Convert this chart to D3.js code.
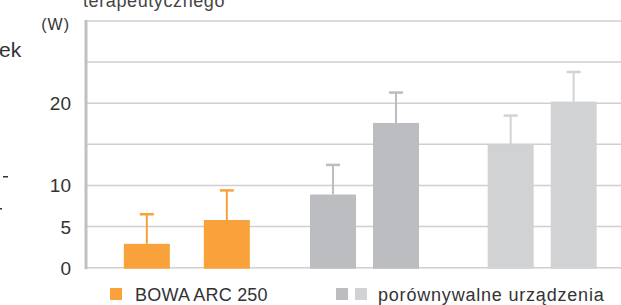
<!DOCTYPE html>
<html>
<head>
<meta charset="utf-8">
<script src="https://cdn.jsdelivr.net/npm/d3@7"></script>
<style>
  body { margin: 0; background: #fff; }
  text { font-family: "Liberation Sans", Arial, sans-serif; fill: #333; }
</style>
</head>
<body>
<div id="chart"></div>
<script>
var svgWidth = 621;
var svgHeight = 305;

// data
var groups = ["BOWA ARC 250", "urzadzenie A", "urzadzenie B"];
var series = ["a", "b"];
var values = [[2.9, 5.8], [8.9, 17.6], [15.0, 20.2]];
var errors = [[3.6, 3.6], [3.6, 3.7], [3.5, 3.6]];
var barColors = ["#f9a13a", "#bcbdc0", "#d1d2d4"];
var yTicks = [0, 5, 10, 15, 20, 25, 30];
var yLabels = [0, 5, 10, 20];

// layout
var barWidth = 46;
var innerGap = [34, 17, 17];

var svg = d3.select("#chart")
    .append("svg")
    .attr("width", svgWidth)
    .attr("height", svgHeight);

var y = d3.scaleLinear().domain([0, 30]).range([267.7, 21]);
var x0 = d3.scaleBand().domain(groups).range([98, 631]);

// cut-off text from the surrounding page
svg.append("text").text("terapeutycznego")
    .attr("x", 83).attr("y", 7).style("font-size", "18px")
    .style("letter-spacing", "0.6px").style("fill", "#444");
svg.append("text").text("ek")
    .attr("x", -1).attr("y", 57).style("font-size", "21px");
svg.append("rect").attr("x", 3).attr("y", 176).attr("width", 5).attr("height", 1.5).attr("fill", "#333");
svg.append("rect").attr("x", 0).attr("y", 208).attr("width", 2).attr("height", 1.5).attr("fill", "#333");

svg.append("text").text("(W)")
    .attr("x", 70).attr("y", 30).attr("text-anchor", "end")
    .style("font-size", "16px").style("letter-spacing", "1px");

// gridlines
svg.selectAll(".grid")
    .data(yTicks).enter().append("line")
    .attr("x1", 86).attr("x2", svgWidth)
    .attr("y1", d => y(d)).attr("y2", d => y(d))
    .attr("stroke", "#cfcfd1").attr("stroke-width", 1.5);

// tick labels
svg.selectAll(".ylab")
    .data(yLabels).enter().append("text")
    .attr("x", 71).attr("y", d => y(d) + 7)
    .attr("text-anchor", "end")
    .style("font-size", "19px")
    .text(d => d);

// left axis
svg.append("line")
    .attr("x1", 86).attr("x2", 86)
    .attr("y1", y(30) - 1).attr("y2", y(0) + 1.5)
    .attr("stroke", "#c0c0c4").attr("stroke-width", 3);

var gr = svg.selectAll(".group")
    .data(groups).enter().append("g")
    .attr("transform", d => `translate(${x0(d)},0)`);

gr.each(function (g, gi) {
    var sel = d3.select(this);
    var half = barWidth + innerGap[gi] / 2;
    var c = x0.bandwidth() / 2;
    var x1 = d3.scaleBand().domain(series)
        .range([c - half, c + half])
        .paddingInner(innerGap[gi] / (barWidth + innerGap[gi]));
    series.forEach(function (s, si) {
        var v = values[gi][si];
        var e = errors[gi][si];
        var cx = x1(s) + x1.bandwidth() / 2;
        sel.append("line")
            .attr("x1", cx).attr("x2", cx)
            .attr("y1", y(v)).attr("y2", y(v + e))
            .attr("stroke", barColors[gi]).attr("stroke-width", 2);
        sel.append("line")
            .attr("x1", cx - 7).attr("x2", cx + 7)
            .attr("y1", y(v + e)).attr("y2", y(v + e))
            .attr("stroke", barColors[gi]).attr("stroke-width", 2.5);
        sel.append("rect")
            .attr("x", x1(s)).attr("width", x1.bandwidth())
            .attr("y", y(v)).attr("height", y(0) - y(v) + 1)
            .attr("fill", barColors[gi]);
    });
});

// legend
svg.append("rect").attr("x", 110).attr("y", 288).attr("width", 12).attr("height", 12).attr("fill", barColors[0]);
svg.append("text").text("BOWA ARC 250").attr("x", 135).attr("y", 301)
    .style("font-size", "18px").style("letter-spacing", "0.2px");
svg.append("rect").attr("x", 336).attr("y", 288).attr("width", 12).attr("height", 12).attr("fill", barColors[1]);
svg.append("rect").attr("x", 355).attr("y", 288).attr("width", 12).attr("height", 12).attr("fill", barColors[2]);
svg.append("text").text("porównywalne urządzenia").attr("x", 378).attr("y", 301)
    .style("font-size", "18px").style("letter-spacing", "0.8px");
</script>
</body>
</html>
